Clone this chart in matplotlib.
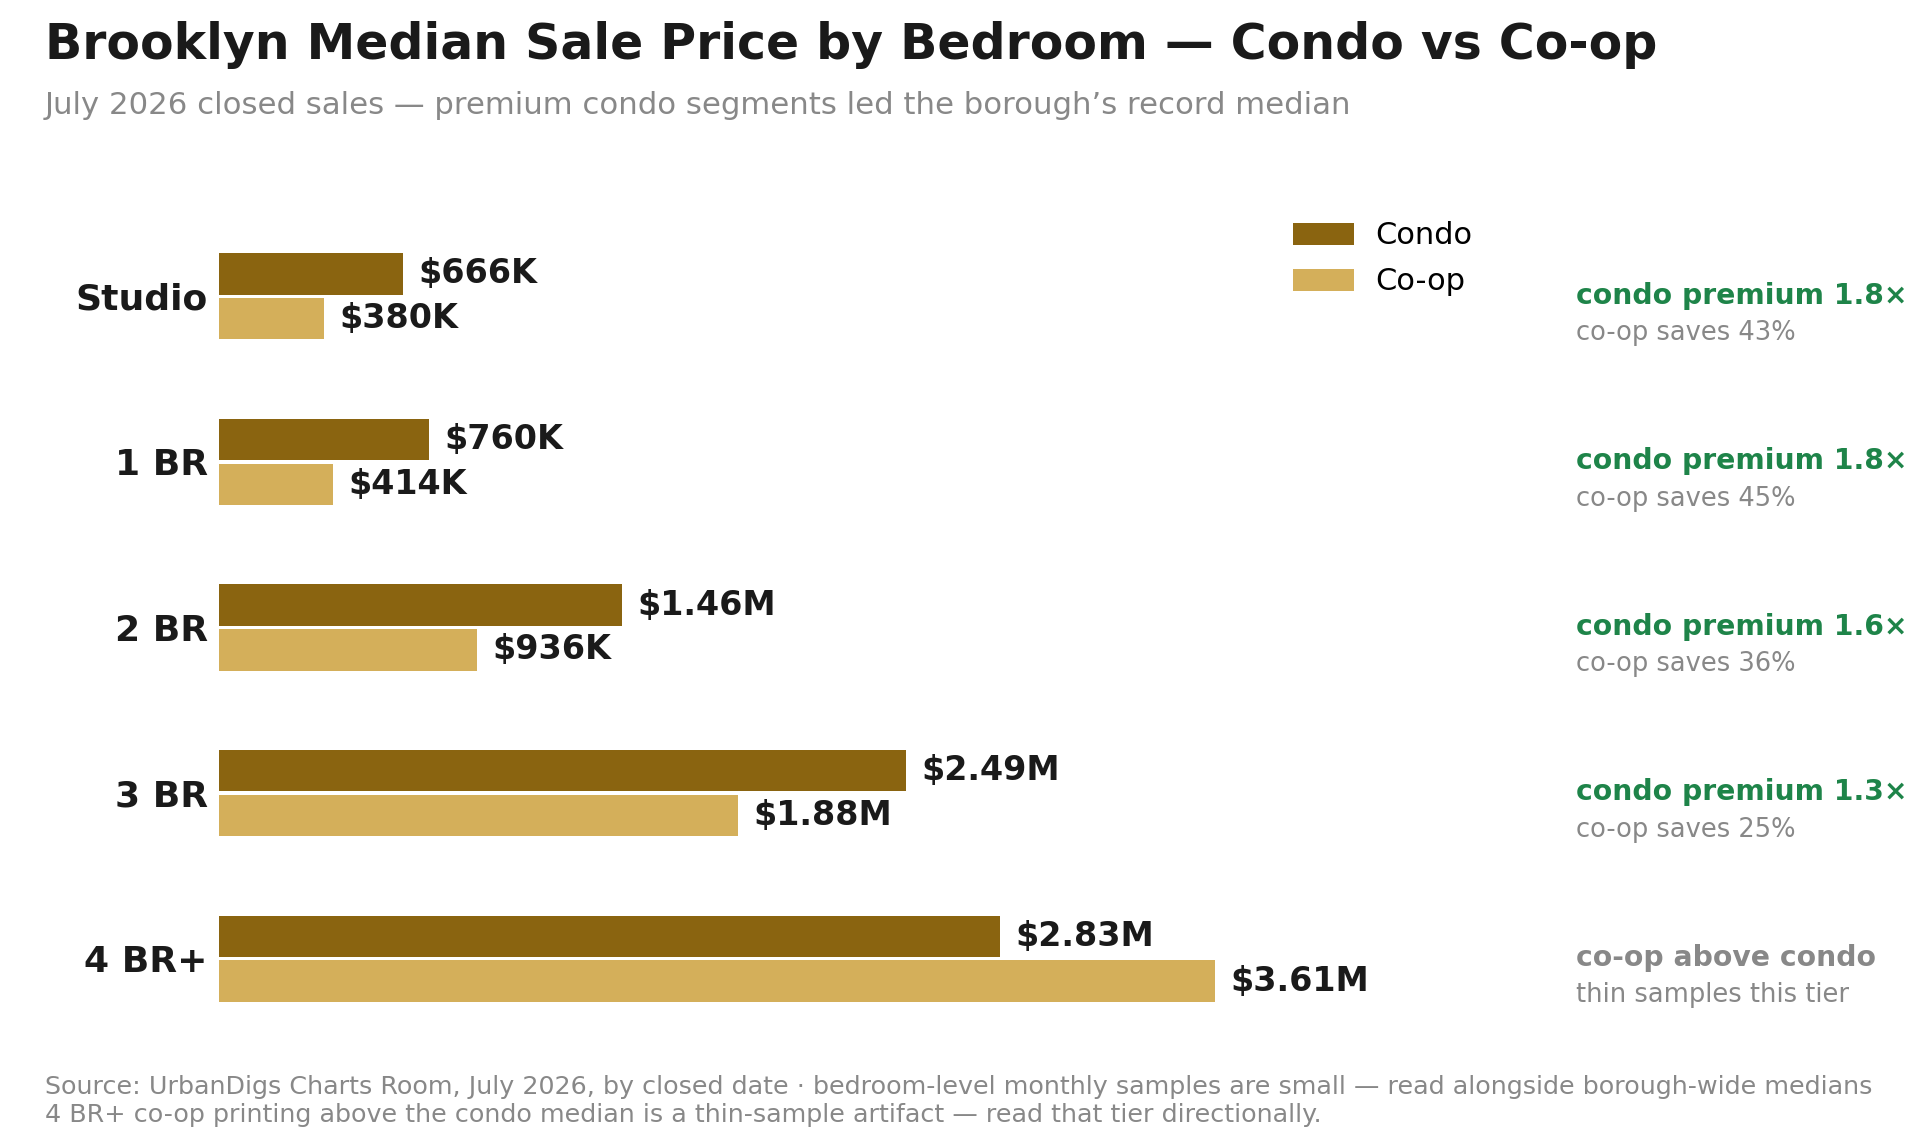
import numpy as np
import matplotlib.pyplot as plt
from matplotlib.transforms import blended_transform_factory

categories = ["Studio", "1 BR", "2 BR", "3 BR", "4 BR+"]
condo = [0.666, 0.760, 1.46, 2.49, 2.83]   # $M
coop = [0.380, 0.414, 0.936, 1.88, 3.61]   # $M
condo_labels = ["$666K", "$760K", "$1.46M", "$2.49M", "$2.83M"]
coop_labels = ["$380K", "$414K", "$936K", "$1.88M", "$3.61M"]
note_main = ["condo premium 1.8\u00d7", "condo premium 1.8\u00d7", "condo premium 1.6\u00d7",
             "condo premium 1.3\u00d7", "co-op above condo"]
note_sub = ["co-op saves 43%", "co-op saves 45%", "co-op saves 36%",
            "co-op saves 25%", "thin samples this tier"]

CONDO_C = "#8a6410"
COOP_C = "#d4af5a"
GREEN = "#1e8449"
GREY = "#888888"
DARK = "#1a1a1a"

W, H = 1920, 1131
fig = plt.figure(figsize=(W / 100, H / 100), dpi=100)

def fx(px):
    return px / W

def fy(py):
    return 1 - py / H

# axes placed so bar groups land where the reference has them
ax = fig.add_axes([fx(219), fy(1058), fx(1260), (1058 - 197) / H])
y = np.arange(len(categories))
off = 0.135
hgt = 0.25
ax.barh(y - off, condo, height=hgt, color=CONDO_C, label="Condo")
ax.barh(y + off, coop, height=hgt, color=COOP_C, label="Co-op")
ax.set_xlim(0, 4.566)
ax.set_ylim(4.6, -0.6)

note_tr = blended_transform_factory(fig.transFigure, ax.transData)
for i in range(len(categories)):
    ax.annotate(condo_labels[i], (condo[i], y[i] - off), xytext=(11, 0),
                textcoords="offset points", va="center", ha="left",
                fontsize=24, fontweight="bold", color=DARK)
    ax.annotate(coop_labels[i], (coop[i], y[i] + off), xytext=(11, 0),
                textcoords="offset points", va="center", ha="left",
                fontsize=24, fontweight="bold", color=DARK)
    main_c = GREEN if condo[i] > coop[i] else GREY
    ax.text(fx(1576), y[i] - 0.005, note_main[i], transform=note_tr,
            va="center", ha="left", fontsize=20.3, fontweight="bold", color=main_c)
    ax.text(fx(1576), y[i] + 0.222, note_sub[i], transform=note_tr,
            va="center", ha="left", fontsize=18.5, color=GREY)

ax.set_yticks(y)
ax.set_yticklabels(categories, fontsize=26, fontweight="bold", color=DARK)
ax.tick_params(axis="y", length=0, pad=8)
ax.set_xticks([])
for s in ax.spines.values():
    s.set_visible(False)

fig.text(fx(45), fy(45), "Brooklyn Median Sale Price by Bedroom \u2014 Condo vs Co-op",
         fontsize=35.2, fontweight="bold", color=DARK, va="center", ha="left")
fig.text(fx(45), fy(105), "July 2026 closed sales \u2014 premium condo segments led the borough\u2019s record median",
         fontsize=22.15, color=GREY, va="center", ha="left")

fig.legend(loc="upper left", bbox_to_anchor=(fx(1265), fy(194)), frameon=False,
           fontsize=22, handlelength=2.0, handleheight=0.72, labelspacing=0.55,
           handletextpad=0.72)

fig.text(fx(45), fy(1087), "Source: UrbanDigs Charts Room, July 2026, by closed date \u00b7 bedroom-level monthly samples are small \u2014 read alongside borough-wide medians",
         fontsize=18.25, color=GREY, va="center", ha="left")
fig.text(fx(45), fy(1115), "4 BR+ co-op printing above the condo median is a thin-sample artifact \u2014 read that tier directionally.",
         fontsize=18.25, color=GREY, va="center", ha="left")

fig.savefig("out.png", dpi=100, facecolor="white")
